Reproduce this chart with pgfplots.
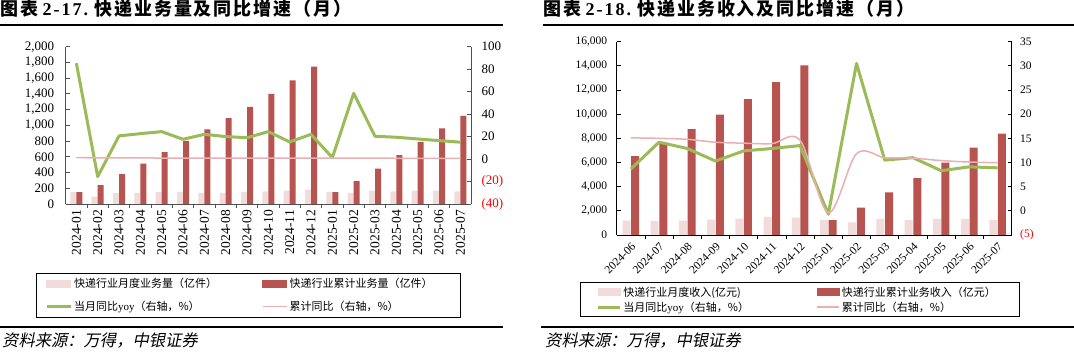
\documentclass[border=0pt]{standalone}
\usepackage{pgfplots}
\pgfplotsset{compat=1.18}
\usepackage{fontspec}
\setmainfont{Liberation Serif}
\newfontfamily\cjk{Noto Sans CJK SC}
\newfontfamily\cjkt[LetterSpace=11]{Noto Sans CJK SC}
\newfontfamily\latt[LetterSpace=11]{Liberation Serif}
\newfontfamily\cjkit[FakeSlant=0.2]{Noto Sans CJK SC}
\definecolor{lightbar}{RGB}{242,220,219}
\definecolor{darkbar}{RGB}{184,84,80}
\definecolor{greenl}{RGB}{155,187,89}
\definecolor{pinkl}{RGB}{232,176,176}
\definecolor{axisc}{RGB}{80,80,80}

\begin{document}
\begin{tikzpicture}
\useasboundingbox[fill=white] (0pt,0pt) rectangle (1074pt,352pt);
% ---------- titles and rules ----------
\node[anchor=west,inner sep=0pt] at (0pt,343.5pt) {\fontsize{18}{18}\selectfont\bfseries{\cjkt 图表} {\latt 2-17.} {\cjkt 快递业务量及同比增速（月）}};
\node[anchor=west,inner sep=0pt] at (543pt,343.5pt) {\fontsize{18}{18}\selectfont\bfseries{\cjkt 图表} {\latt 2-18.} {\cjkt 快递业务收入及同比增速（月）}};
\draw[line width=2pt] (0pt,327pt) -- (503pt,327pt);
\draw[line width=2pt] (543pt,327pt) -- (1074pt,327pt);
\draw[line width=2pt] (0pt,25pt) -- (503pt,25pt);
\draw[line width=2pt] (541pt,25pt) -- (1074pt,25pt);
\node[anchor=west,inner sep=0pt] at (2pt,11pt) {\fontsize{16.3}{16.3}\selectfont\cjkit 资料来源：万得，中银证券};
\node[anchor=west,inner sep=0pt] at (545pt,11pt) {\fontsize{16.3}{16.3}\selectfont\cjkit 资料来源：万得，中银证券};

% ================= LEFT CHART =================
\begin{axis}[
  at={(65.7pt,148pt)}, anchor=south west,
  width=405.3pt, height=157.3pt, scale only axis,
  xmin=-0.5, xmax=18.5, ymin=0, ymax=2000,
  axis y line*=left, axis x line*=bottom,
  axis line style={axisc, line width=0.8pt},
  tick style={axisc, line width=0.8pt},
  tick align=inside, scaled y ticks=false,
  major tick length=4pt, minor tick length=4pt,
  ytick={0,200,...,2000},
  yticklabels={0,200,400,600,800,{1,000},{1,200},{1,400},{1,600},{1,800},{2,000}},
  xtick={0,...,18},
  xticklabels={2024-01,2024-02,2024-03,2024-04,2024-05,2024-06,2024-07,2024-08,2024-09,2024-10,2024-11,2024-12,2025-01,2025-02,2025-03,2025-04,2025-05,2025-06,2025-07},
  minor x tick num=1,
  major x tick style={draw=none},
  x tick label style={rotate=90, anchor=east, font=\fontsize{13.5}{13.5}\selectfont, inner sep=2pt},
  y tick label style={font=\fontsize{13}{13}\selectfont, xshift=-8pt},
  ybar=0pt, bar width=6pt,
  clip=false,
]
\addplot[fill=lightbar, draw=none] coordinates {
(0,150) (1,93) (2,140) (3,140) (4,153) (5,153) (6,140) (7,140) (8,153) (9,161)
(10,170) (11,182) (12,153) (13,140) (14,170) (15,161) (16,170) (17,170) (18,161)};
\addplot[fill=darkbar, draw=none] coordinates {
(0,150) (1,240) (2,380) (3,513) (4,661) (5,801) (6,950) (7,1092) (8,1235) (9,1399)
(10,1573) (11,1745) (12,150) (13,290) (14,450) (15,620) (16,790) (17,962) (18,1120)};
\end{axis}

\begin{axis}[
  at={(65.7pt,148pt)}, anchor=south west,
  width=405.3pt, height=157.3pt, scale only axis,
  xmin=-0.5, xmax=18.5, ymin=-40, ymax=100,
  axis y line*=right, axis x line=none,
  axis line style={axisc, line width=0.8pt},
  tick style={axisc, line width=0.8pt},
  tick align=inside, major tick length=4pt,
  ytick={-40,-20,...,100},
  yticklabels={\textcolor{red}{(40)},\textcolor{red}{(20)},0,20,40,60,80,100},
  y tick label style={font=\fontsize{13}{13}\selectfont, xshift=7pt},
  legend columns=2,
  legend cell align=left,
  legend style={at={(-0.074,-0.4367)}, anchor=north west, draw=black, line width=0.8pt,
    font=\fontsize{11}{11}\selectfont,
    /tikz/every even column/.append style={column sep=0pt},
    row sep=8pt, inner xsep=9pt, inner ysep=3pt},
]
\addlegendimage{legend image code/.code={\fill[lightbar] (0pt,-3.5pt) rectangle (24pt,3.5pt);}}
\addlegendentry{\makebox[186pt][l]{\cjk 快递行业月度业务量（亿件）}}
\addlegendimage{legend image code/.code={\fill[darkbar] (0pt,-3.5pt) rectangle (24pt,3.5pt);}}
\addlegendentry{\makebox[160pt][l]{\cjk 快递行业累计业务量（亿件）}}
\addplot[greenl, line width=3pt, line join=round,
  legend image code/.code={\draw[greenl, line width=3pt] (0pt,0pt) -- (24pt,0pt);}] coordinates {
(0,85.3) (1,-15.6) (2,20.6) (3,22.6) (4,24.4) (5,17.6) (6,22) (7,20) (8,19) (9,24.4)
(10,15.2) (11,22) (12,1.3) (13,58.5) (14,20.3) (15,19.4) (16,17.9) (17,16.4) (18,15)};
\addlegendentry{\makebox[186pt][l]{{\cjk 当月同比}yoy{\cjk （右轴，\%）}}}
\addplot[pinkl, line width=1.5pt,
  legend image code/.code={\draw[pinkl, line width=1.5pt] (0pt,0pt) -- (24pt,0pt);}] coordinates {
(0,1.3) (1,1) (2,1) (3,1) (4,0.9) (5,0.8) (6,0.8) (7,0.8) (8,0.8) (9,0.8)
(10,0.8) (11,0.8) (12,0.8) (13,0.8) (14,0.8) (15,0.7) (16,0.7) (17,0.7) (18,0.7)};
\addlegendentry{\makebox[160pt][l]{\cjk 累计同比（右轴，\%）}}
\end{axis}

% ================= RIGHT CHART =================
\begin{axis}[
  at={(616.7pt,117pt)}, anchor=south west,
  width=395pt, height=193.3pt, scale only axis,
  xmin=-0.5, xmax=13.5, ymin=0, ymax=16000,
  axis y line*=left, axis x line*=bottom,
  axis line style={black, line width=0.8pt},
  tick style={black, line width=0.8pt},
  tick align=inside, scaled y ticks=false,
  major tick length=4pt, minor tick length=4pt,
  ytick={0,2000,...,16000},
  yticklabels={0,{2,000},{4,000},{6,000},{8,000},{10,000},{12,000},{14,000},{16,000}},
  xtick={0,...,13},
  xticklabels={2024-06,2024-07,2024-08,2024-09,2024-10,2024-11,2024-12,2025-01,2025-02,2025-03,2025-04,2025-05,2025-06,2025-07},
  minor x tick num=1,
  major x tick style={draw=none},
  x tick label style={rotate=45, anchor=north east, font=\fontsize{11.5}{11.5}\selectfont, inner sep=2pt},
  y tick label style={font=\fontsize{11.5}{11.5}\selectfont, xshift=-6pt},
  ybar=0.6pt, bar width=8pt,
  clip=false,
]
\addplot[fill=lightbar, draw=none] coordinates {
(0,1186) (1,1159) (2,1180) (3,1269) (4,1352) (5,1490) (6,1435) (7,1250) (8,1048) (9,1330)
(10,1230) (11,1330) (12,1330) (13,1241)};
\addplot[fill=darkbar, draw=none] coordinates {
(0,6538) (1,7640) (2,8773) (3,9959) (4,11255) (5,12662) (6,14041) (7,1241) (8,2262) (9,3531)
(10,4717) (11,5986) (12,7227) (13,8386)};
\end{axis}

\begin{axis}[
  at={(616.7pt,117pt)}, anchor=south west,
  width=395pt, height=193.3pt, scale only axis,
  xmin=-0.5, xmax=13.5, ymin=-5, ymax=35,
  axis y line*=right, axis x line=none,
  axis line style={black, line width=0.8pt},
  tick style={black, line width=0.8pt},
  tick align=inside, major tick length=4pt,
  ytick={-5,0,...,35},
  yticklabels={\textcolor{red}{(5)},0,5,10,15,20,25,30,35},
  y tick label style={font=\fontsize{11.5}{11.5}\selectfont, xshift=5pt},
  legend columns=2,
  legend cell align=left,
  legend style={at={(-0.0929,-0.2447)}, anchor=north west, draw=black, line width=0.8pt,
    font=\fontsize{11}{11}\selectfont,
    /tikz/every even column/.append style={column sep=0pt},
    row sep=0pt, inner xsep=16pt, inner ysep=2pt},
]
\addlegendimage{legend image code/.code={\fill[lightbar] (0pt,-3.5pt) rectangle (22pt,3.5pt);}}
\addlegendentry{\makebox[191pt][l]{\cjk 快递行业月度收入(亿元)}}
\addlegendimage{legend image code/.code={\fill[darkbar] (0pt,-3.5pt) rectangle (22pt,3.5pt);}}
\addlegendentry{\makebox[159pt][l]{\cjk 快递行业累计业务收入（亿元）}}
\addplot[greenl, line width=3pt, line join=round,
  legend image code/.code={\draw[greenl, line width=3pt] (0pt,0pt) -- (22pt,0pt);}] coordinates {
(0,8.65) (1,14.2) (2,12.9) (3,10.3) (4,12.4) (5,12.9) (6,13.5) (7,-0.7) (8,30.5) (9,10.5)
(10,11) (11,8.3) (12,9.1) (13,8.9)};
\addlegendentry{\makebox[191pt][l]{{\cjk 当月同比}yoy{\cjk （右轴，\%）}}}
\addplot[pinkl, line width=1.5pt, smooth, tension=0.55,
  legend image code/.code={\draw[pinkl, line width=1.5pt] (0pt,0pt) -- (22pt,0pt);}] coordinates {
(0,15.1) (1,15) (2,14.8) (3,14.2) (4,14) (5,13.9) (6,14.6) (7,-0.4) (8,11.8) (9,11)
(10,10.9) (11,10.4) (12,10.1) (13,9.95)};
\addlegendentry{\makebox[159pt][l]{\cjk 累计同比（右轴，\%）}}
\end{axis}
\end{tikzpicture}
\end{document}
